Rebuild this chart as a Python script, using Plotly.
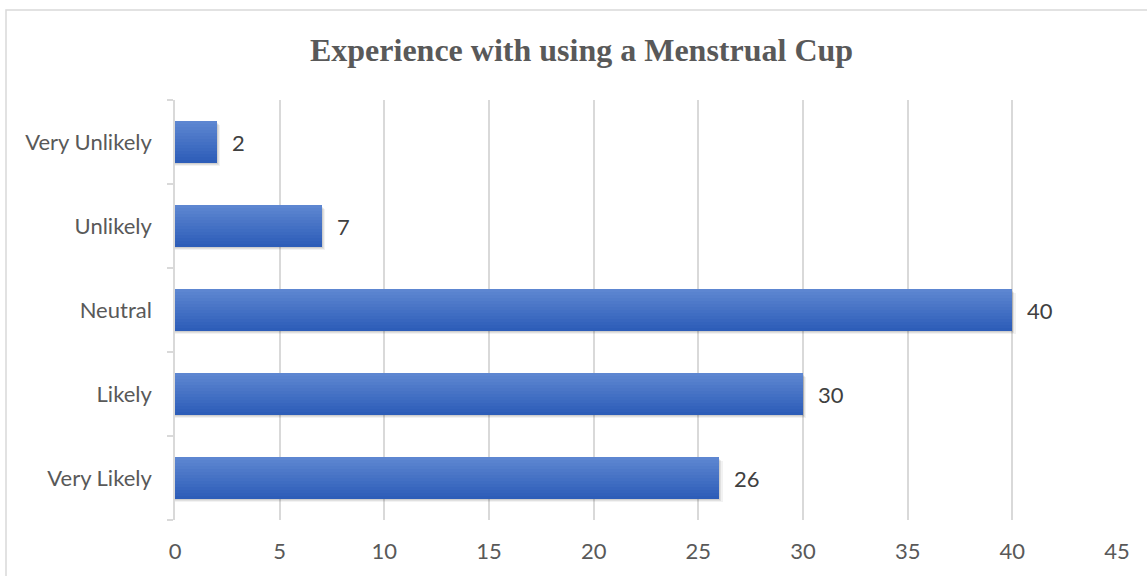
import plotly.graph_objects as go

# Survey responses
categories = ["Very Unlikely", "Unlikely", "Neutral", "Likely", "Very Likely"]
counts = [2, 7, 40, 30, 26]
x_ticks = [0, 5, 10, 15, 20, 25, 30, 35, 40, 45]

W, H = 1147, 576
ML, MR, MT, MB = 175, 30, 100, 56

BAR_W = 0.49          # bar thickness as a share of the category band
N_STRIPS = 14         # vertical gradient bands per bar
TOP_RGB = (93, 134, 209)
BOT_RGB = (45, 93, 184)

LABEL_FONT = "Lato, Carlito, sans-serif"

fig = go.Figure()

# soft drop shadow beneath each bar (down and slightly right)
for dx, dy, alpha in [(0.16, 0.045, 0.05), (0.10, 0.03, 0.07), (0.05, 0.015, 0.08)]:
    fig.add_trace(go.Bar(
        y=categories, x=[v + dx for v in counts], orientation="h",
        width=BAR_W, offset=-BAR_W / 2 - dy,
        marker=dict(color=f"rgba(0,0,0,{alpha})", line=dict(width=0)),
        hoverinfo="skip", showlegend=False,
    ))

# bars built from thin horizontal strips to give a top-to-bottom gradient
strip = BAR_W / N_STRIPS
for i in range(N_STRIPS):
    t = i / (N_STRIPS - 1)   # 0 = bottom edge, 1 = top edge
    r, g, b = (round(BOT_RGB[c] + (TOP_RGB[c] - BOT_RGB[c]) * t) for c in range(3))
    w = strip * 1.15 if i < N_STRIPS - 1 else strip
    fig.add_trace(go.Bar(
        y=categories, x=counts, orientation="h",
        width=w, offset=-BAR_W / 2 + i * strip,
        marker=dict(color=f"rgb({r},{g},{b})", line=dict(width=0)),
        hoverinfo="skip" if i else None, showlegend=False,
    ))

# value labels to the right of each bar
for cat, v in zip(categories, counts):
    fig.add_annotation(
        x=v, y=cat, text=str(v), showarrow=False,
        xanchor="left", xshift=13,
        font=dict(family=LABEL_FONT, size=22, color="#404040"),
    )

# outer chart border
pw = W - ML - MR
ph = H - MT - MB
fig.add_shape(
    type="rect", xref="paper", yref="paper",
    x0=(6 - ML) / pw, x1=(W + 2 - ML) / pw,
    y0=-(H + 2 - MT - ph) / ph, y1=1 + (MT - 10) / ph,
    line=dict(color="#d9d9d9", width=1.5), layer="below",
)

fig.update_layout(
    width=W, height=H,
    margin=dict(l=ML, r=MR, t=MT, b=MB),
    paper_bgcolor="white", plot_bgcolor="white",
    barmode="overlay", bargap=0,
    title=dict(
        text="<b>Experience with using a Menstrual Cup</b>",
        x=0.507, xanchor="center", y=1 - 50 / H, yanchor="middle",
        font=dict(family="Liberation Serif, Times New Roman, serif", size=32, color="#595959"),
    ),
    xaxis=dict(
        range=[0, 45], tickvals=x_ticks,
        showgrid=True, gridcolor="#d9d9d9", gridwidth=1.5,
        zeroline=False, showline=False, ticks="",
        ticklabelstandoff=16,
        tickfont=dict(family=LABEL_FONT, size=22, color="#595959"),
    ),
    yaxis=dict(
        type="category", categoryorder="array", categoryarray=categories[::-1],
        showline=True, linecolor="#d9d9d9", linewidth=1.5,
        ticks="outside", tickson="boundaries", ticklen=6,
        tickcolor="#d9d9d9", tickwidth=1.5,
        showgrid=False, zeroline=False,
        ticklabelstandoff=17,
        tickfont=dict(family=LABEL_FONT, size=22, color="#595959"),
    ),
)

fig.write_html("out.html")
